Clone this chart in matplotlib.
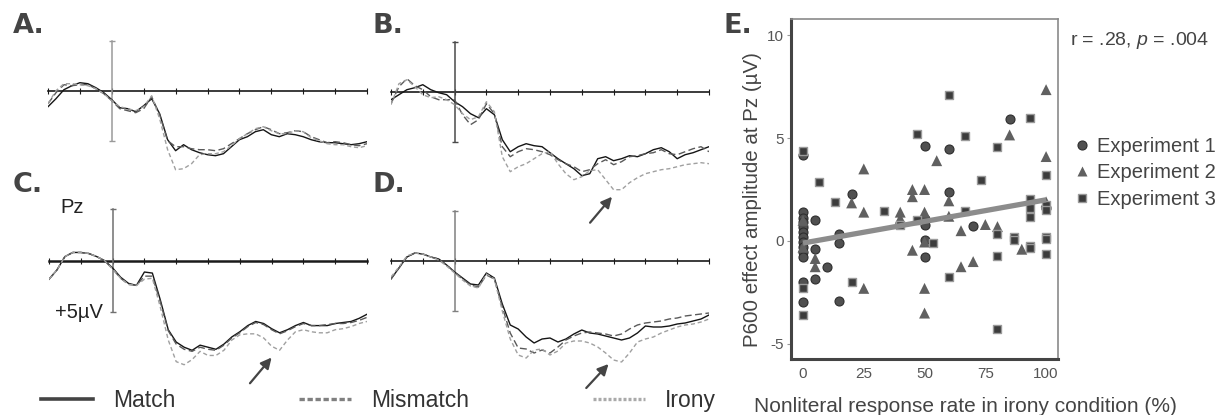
import matplotlib
matplotlib.use("Agg")
import matplotlib.pyplot as plt
from matplotlib.lines import Line2D

plt.rcParams['font.family'] = ['Liberation Sans', 'DejaVu Sans']
plt.rcParams['axes.unicode_minus'] = False
plt.rcParams['mathtext.fontset'] = 'custom'
plt.rcParams['mathtext.it'] = 'Liberation Sans:italic'
plt.rcParams['mathtext.rm'] = 'Liberation Sans'

# ---------------- ERP data (µV, positive plotted downward) ----------------
TIME_MS = list(range(-200, 801, 25))
TIME_TICKS = list(range(-200, 801, 100))

A_match = [1.6, 0.8, -0.1, -0.5, -0.8, -0.7, -0.3, 0.2, 0.9, 1.7, 1.8, 2.1, 1.5, 0.8, 2.3, 4.9, 6.0, 5.4, 5.9, 6.2, 6.4,
           6.5, 6.3, 5.6, 4.9, 4.6, 4.1, 3.9, 4.4, 4.6, 4.3, 4.4, 4.6, 4.9, 5.1, 5.2, 5.2, 5.3, 5.4, 5.3, 5.1]
A_mismatch = [1.3, 0.2, -0.6, -0.5, -0.6, -0.6, -0.2, 0.3, 1.0, 1.8, 2.0, 2.2, 1.8, 0.6, 2.4, 5.0, 5.6, 5.6, 5.8, 5.9, 5.9,
              6.0, 5.8, 5.3, 4.8, 4.3, 3.9, 3.6, 3.9, 4.3, 4.2, 4.0, 4.1, 4.6, 4.9, 5.2, 5.1, 5.2, 5.4, 5.5, 5.3]
A_irony = [1.3, 0.0, -0.7, -0.7, -0.6, -0.5, -0.2, 0.3, 1.0, 1.6, 1.8, 2.0, 1.6, 0.5, 2.8, 5.9, 7.9, 7.8, 7.3, 6.4, 6.3,
           6.3, 6.1, 5.5, 4.8, 4.3, 3.8, 3.6, 4.0, 4.3, 4.3, 4.0, 4.1, 4.7, 5.0, 5.3, 5.4, 5.4, 5.6, 5.7, 5.5]

B_match = [0.8, 0.3, -0.2, -0.4, -0.7, -0.2, 0.1, 0.3, 1.0, 1.5, 2.2, 2.6, 1.7, 2.3, 4.8, 6.0, 5.5, 5.2, 5.4, 5.5, 6.1,
           6.7, 7.2, 7.7, 8.4, 8.2, 6.7, 6.5, 6.9, 6.7, 6.4, 6.5, 6.2, 5.8, 5.6, 6.0, 6.7, 6.3, 6.1, 5.8, 5.5]
B_mismatch = [1.2, -0.5, -1.3, -0.6, -0.2, 0.5, 0.8, 0.8, 0.8, 2.3, 3.3, 2.8, 1.2, 2.2, 5.5, 6.5, 6.0, 5.7, 5.8, 6.0, 6.3,
              6.8, 7.2, 7.5, 8.0, 7.8, 7.2, 6.8, 7.3, 7.0, 6.5, 6.4, 6.2, 6.1, 5.8, 6.2, 6.3, 6.0, 5.7, 5.5, 6.0]
B_irony = [1.3, -0.8, -1.2, -0.5, 0.3, 0.6, 0.5, 0.8, 1.3, 2.2, 2.8, 2.5, 1.0, 2.0, 6.5, 8.0, 7.5, 7.2, 6.7, 6.2, 6.0,
           7.2, 8.2, 8.8, 8.5, 7.9, 7.8, 8.8, 9.8, 9.8, 9.1, 8.6, 8.2, 8.0, 7.8, 7.7, 7.5, 7.3, 7.2, 7.1, 7.2]

C_match = [1.8, 0.9, -0.4, -0.8, -0.8, -0.7, -0.4, 0.0, 0.7, 1.6, 2.2, 2.4, 1.1, 1.2, 3.8, 6.7, 7.9, 8.4, 8.7, 8.2, 8.4,
           8.6, 8.1, 7.4, 6.9, 6.3, 5.9, 6.1, 6.6, 7.0, 6.7, 6.3, 6.0, 6.3, 6.3, 6.3, 6.1, 6.0, 5.9, 5.6, 5.2]
C_mismatch = [1.8, 0.9, -0.4, -0.8, -0.8, -0.7, -0.4, 0.0, 0.8, 1.7, 2.3, 2.4, 1.5, 1.5, 4.0, 6.8, 8.1, 8.6, 8.8, 8.4, 8.6,
              8.7, 8.2, 7.5, 7.0, 6.4, 6.0, 6.2, 6.7, 7.1, 6.8, 6.4, 6.1, 6.3, 6.3, 6.2, 6.1, 6.1, 6.0, 5.8, 5.5]
C_irony = [1.8, 0.9, -0.4, -0.8, -0.8, -0.7, -0.4, 0.0, 0.8, 1.7, 2.3, 2.4, 1.8, 1.7, 4.5, 7.7, 9.8, 10.1, 9.6, 8.8, 9.2,
           9.2, 8.7, 7.7, 7.2, 7.1, 7.1, 7.5, 8.3, 8.7, 7.7, 6.9, 6.7, 6.9, 7.0, 7.0, 6.7, 6.6, 6.4, 6.1, 5.9]

D_match = [1.8, 0.7, -0.4, -0.8, -0.7, -0.4, -0.2, 0.4, 1.1, 1.7, 2.3, 2.4, 1.2, 1.7, 4.3, 6.4, 6.8, 7.6, 8.2, 7.8, 7.7,
           8.1, 7.8, 7.3, 6.9, 7.2, 7.3, 7.5, 7.7, 7.9, 7.7, 7.2, 6.5, 6.6, 6.6, 6.5, 6.3, 6.2, 6.0, 5.8, 5.4]
D_mismatch = [1.8, 0.7, -0.4, -0.8, -0.7, -0.4, -0.2, 0.4, 1.1, 1.8, 2.4, 2.6, 1.4, 1.8, 4.6, 7.2, 8.7, 8.8, 9.2, 8.9, 9.2,
              8.6, 7.9, 7.5, 7.2, 7.1, 7.2, 7.3, 7.5, 7.3, 6.8, 6.4, 6.2, 6.1, 6.0, 5.8, 5.7, 5.5, 5.4, 5.3, 5.2]
D_irony = [1.6, 0.6, -0.5, -0.8, -0.7, -0.4, -0.1, 0.5, 1.2, 1.9, 2.5, 2.7, 1.3, 1.8, 5.0, 7.8, 9.4, 9.7, 8.9, 8.8, 9.4,
           9.0, 8.2, 8.0, 8.0, 8.2, 8.6, 9.2, 9.9, 10.1, 9.2, 8.1, 7.8, 7.6, 7.2, 6.9, 6.6, 6.4, 6.3, 6.1, 5.8]

CONDITIONS = ["Match", "Mismatch", "Irony"]

# ---------------- Scatter data ----------------
exp1_x = [0, 0, 0, 0, 0, 0, 0, 0, 0, 0, 0, 0, 0, 5, 5, 5, 10, 15, 15, 15, 20, 50, 50, 50, 50, 50, 60, 60, 70, 85, 100]
exp1_y = [4.2, 1.4, 1.1, 0.9, 0.7, 0.45, 0.2, -0.05, -0.3, -0.55, -0.8, -2.0, -2.95, 1.0, -0.4, -1.85, -1.25, 0.35,
          -0.1, -2.9, 2.3, 4.6, 1.05, 0.8, 0.05, -0.8, 4.45, 2.4, 0.75, 5.9, 1.6]

exp2_x = [0, 0, 5, 5, 20, 25, 25, 25, 40, 40, 45, 45, 45, 50, 50, 50, 50, 50, 55, 60, 60, 65, 65, 70, 75, 80, 85, 90,
          100, 100, 100]
exp2_y = [1.0, -0.3, -0.85, -1.25, 1.85, 3.5, 1.4, -2.3, 1.4, 1.1, 2.5, 2.15, -0.45, 2.5, 1.4, -0.05, -2.3, -3.5, 3.9,
          1.95, 1.2, 0.5, -1.25, -1.0, 0.8, 0.7, 5.15, -0.4, 7.35, 4.1, 1.9]

exp3_x = [0, 0, 0, 6.7, 13.3, 20, 33.3, 40, 46.7, 46.7, 53.3, 60, 60, 66.7, 66.7, 73.3, 80, 80, 80, 80, 86.7, 86.7,
          93.3, 93.3, 93.3, 93.3, 93.3, 93.3, 100, 100, 100, 100, 100, 100]
exp3_y = [4.35, -2.3, -3.6, 2.85, 1.9, -2.0, 1.45, 0.8, 5.2, 1.0, -0.1, 7.1, -1.75, 5.1, 1.45, 2.95, 4.55, 0.35, -0.75,
          -4.25, 0.2, 0.05, 5.95, 2.05, 1.6, 1.15, -0.25, -0.35, 3.2, 1.75, 1.5, 0.2, 0.1, -0.65]

fit_x = [0, 100]
fit_y = [-0.1, 2.0]

x_ticks = [0, 25, 50, 75, 100]
y_ticks = [-5, 0, 5, 10]
y_ticklabels = ["-5", "0", "5", "10"]

# ---------------- Figure ----------------
W, H = 1222, 415
fig = plt.figure(figsize=(W / 100, H / 100), dpi=100)
fig.patch.set_facecolor("white")

MATCH_STYLE = dict(color="#151515", lw=1.0, ls="-")
MISM_STYLE = dict(color="#5a5a5a", lw=1.0, ls=(0, (5, 2.5)))
IRONY_STYLE = dict(color="#a0a0a0", lw=1.0, ls=(0, (3, 2)))

TOP_UV, BOT_UV = -6.0, 14.0


def erp_axes(x0, x1, zero_px, upx, series, bar_color, zero_lw):
    top_px = zero_px + TOP_UV * upx
    bot_px = zero_px + BOT_UV * upx
    ax = fig.add_axes([x0 / W, 1 - bot_px / H, (x1 - x0) / W, (bot_px - top_px) / H])
    ax.patch.set_alpha(0)
    ax.set_xlim(-200, 800)
    ax.set_ylim(BOT_UV, TOP_UV)
    for vals, st in zip(series, [MATCH_STYLE, MISM_STYLE, IRONY_STYLE]):
        ax.plot(TIME_MS, vals, **st, zorder=3)
    ax.spines['top'].set_visible(False)
    ax.spines['right'].set_visible(False)
    ax.spines['bottom'].set_position(('data', 0))
    ax.spines['bottom'].set_color('#1a1a1a')
    ax.spines['bottom'].set_linewidth(zero_lw)
    ax.spines['bottom'].set_zorder(2)
    ax.spines['left'].set_position(('data', 0))
    ax.spines['left'].set_bounds(-5, 5)
    ax.spines['left'].set_color(bar_color)
    ax.spines['left'].set_linewidth(1.1)
    ax.set_xticks(TIME_TICKS)
    ax.set_yticks([-5, 5])
    ax.tick_params(axis='x', direction='inout', length=3.8, width=0.8, color='#1a1a1a', labelbottom=False)
    ax.tick_params(axis='y', direction='inout', length=5, width=1.0, color=bar_color, labelleft=False)
    return ax


axA = erp_axes(48, 367, 90.7, 10.0, [A_match, A_mismatch, A_irony], '#9a9a9a', 1.2)
axB = erp_axes(391, 709, 91.7, 10.0, [B_match, B_mismatch, B_irony], '#4a4a4a', 1.2)
axC = erp_axes(49, 367, 260.7, 10.3, [C_match, C_mismatch, C_irony], '#707070', 1.8)
axD = erp_axes(391, 709, 261.0, 10.0, [D_match, D_mismatch, D_irony], '#808080', 1.2)

arrow_kw = dict(arrowstyle='-|>', color='#444444', lw=1.6, mutation_scale=16, shrinkA=0, shrinkB=0)
axB.annotate('', xy=(495, 10.5), xytext=(426, 13.1), arrowprops=arrow_kw, annotation_clip=False)
axC.annotate('', xy=(500, 9.4), xytext=(432, 11.9), arrowprops=arrow_kw, annotation_clip=False)
axD.annotate('', xy=(484, 10.3), xytext=(414, 12.7), arrowprops=arrow_kw, annotation_clip=False)

axC.text(-128, -5.2, "Pz", ha='center', va='center', fontsize=14.5, color='#222222')
axC.text(-30, 5.0, "+5µV", ha='right', va='center', fontsize=14.5, color='#222222')

# panel labels
for lab, px, py in [("A.", 13, 33), ("B.", 372, 33), ("C.", 13, 192), ("D.", 372, 192), ("E.", 723, 33)]:
    fig.text(px / W, 1 - py / H, lab, fontsize=19.5, fontweight='bold', color='#444444',
             family='DejaVu Sans', va='baseline', ha='left')

# bottom legend for ERP conditions
leg_handles = [Line2D([], [], color='#444444', lw=2.6, ls='-'),
               Line2D([], [], color='#808080', lw=2.4, ls=(0, (1.6, 0.8))),
               Line2D([], [], color='#aaaaaa', lw=2.4, ls=(0, (0.9, 0.6)))]
fig.legend(leg_handles, CONDITIONS, loc='center left', bbox_to_anchor=(41 / W, 1 - 400.7 / H),
           ncol=3, frameon=False, fontsize=16.5, handlelength=2.27, handletextpad=0.87,
           columnspacing=5.4, borderpad=0, borderaxespad=0, labelcolor='#333333')

# ---------------- Scatter panel E ----------------
axE = fig.add_axes([791 / W, 1 - 359 / H, 267 / W, 340 / H])
axE.set_xlim(-4.94, 104.9)
axE.set_ylim(-5.73, 10.78)
axE.scatter(exp1_x, exp1_y, marker='o', s=42, c='#505050', edgecolors='#2e2e2e', linewidths=0.8, zorder=3,
            label='Experiment 1')
axE.scatter(exp2_x, exp2_y, marker='^', s=62, c='#606060', edgecolors='none', zorder=3, label='Experiment 2')
axE.scatter(exp3_x, exp3_y, marker='s', s=38, c='#3c3c3c', edgecolors='#9a9a9a', linewidths=1.0, zorder=3,
            label='Experiment 3')
axE.plot(fit_x, fit_y, color='#8c8c8c', lw=3.8, solid_capstyle='butt', zorder=4)

for s in ['left', 'bottom']:
    axE.spines[s].set_color('#444444')
    axE.spines[s].set_linewidth(2.2)
for s in ['top', 'right']:
    axE.spines[s].set_color('#8a8a8a')
    axE.spines[s].set_linewidth(1.2)
axE.set_xticks(x_ticks)
axE.set_yticks(y_ticks)
axE.set_yticklabels(y_ticklabels)
axE.tick_params(axis='x', length=0, pad=6, labelsize=11, labelcolor='#555555')
axE.tick_params(axis='y', length=3, width=0.8, color='#999999', pad=2, labelsize=11, labelcolor='#555555')
axE.set_xlabel("Nonliteral response rate in irony condition (%)", fontsize=15, color='#444444')
axE.xaxis.set_label_coords(0.655, -0.112)
axE.set_ylabel("P600 effect amplitude at Pz (µV)", fontsize=14.8, color='#444444')
axE.yaxis.set_label_coords(-0.109, 0.468)

axE.text(1.045, 0.938, r"r = .28, $\mathit{p}$ = .004", transform=axE.transAxes, fontsize=14,
         color='#444444', ha='left', va='center')

e_handles = [Line2D([], [], marker='o', ls='none', ms=6.5, mfc='#505050', mec='#2e2e2e', mew=0.8),
             Line2D([], [], marker='^', ls='none', ms=7.5, mfc='#606060', mec='none'),
             Line2D([], [], marker='s', ls='none', ms=6.0, mfc='#3c3c3c', mec='#9a9a9a', mew=1.0)]
axE.legend(e_handles, ["Experiment 1", "Experiment 2", "Experiment 3"], loc='upper left',
           bbox_to_anchor=(1.058, 0.654), frameon=False, fontsize=14.5, handlelength=0.8,
           handletextpad=0.35, labelspacing=0.38, borderpad=0, borderaxespad=0, labelcolor='#444444')

fig.savefig("out.png", dpi=100, facecolor='white')
